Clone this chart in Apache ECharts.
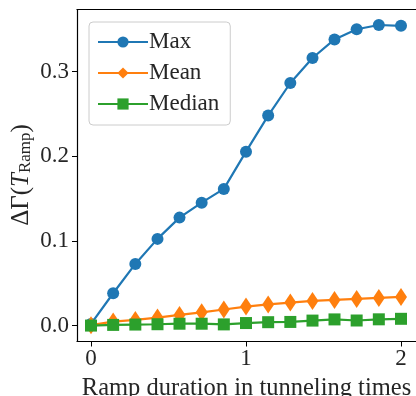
<!DOCTYPE html>
<html>
<head>
<meta charset="utf-8">
<script src="https://cdn.jsdelivr.net/npm/echarts@6/dist/echarts.min.js"></script>
<style>
html,body{margin:0;padding:0;background:#fff;}
#chart{width:416px;height:396px;}
</style>
</head>
<body>
<div id="chart"></div>
<script>
var rampDuration = [0, 0.143, 0.286, 0.429, 0.571, 0.714, 0.857, 1.0, 1.143, 1.286, 1.429, 1.571, 1.714, 1.857, 2.0];
var maxValues = [0.002, 0.0382, 0.0728, 0.1024, 0.1275, 0.1452, 0.1614, 0.2054, 0.248, 0.2865, 0.316, 0.338, 0.350, 0.355, 0.354];
var meanValues = [0.0005, 0.0047, 0.0067, 0.0094, 0.0126, 0.0157, 0.0190, 0.0224, 0.0250, 0.0272, 0.0291, 0.0303, 0.0315, 0.0327, 0.0338];
var medianValues = [0, 0.0008, 0.0012, 0.0016, 0.0022, 0.0022, 0.0014, 0.0030, 0.0040, 0.0043, 0.0059, 0.0073, 0.0060, 0.0074, 0.0080];
var seriesNames = ['Max', 'Mean', 'Median'];
var xTicks = [0, 1, 2];
var yTicks = [0, 0.1, 0.2, 0.3];
var xTitle = 'Ramp duration in tunneling times';

function pairs(ys) { return rampDuration.map(function (x, i) { return [x, ys[i]]; }); }

var FONT = '"Liberation Serif", "Times New Roman", serif';
var chart = echarts.init(document.getElementById('chart'), null, {renderer: 'canvas'});
var colors = ['#1f77b4', '#ff7f0e', '#2ca02c'];
var option = {
  animation: false,
  backgroundColor: '#fff',
  color: colors,
  grid: {left: 77, right: 0, top: 9.5, bottom: 54.5, containLabel: false, outerBoundsMode: 'none'},
  legend: {
    left: 89, top: 22, orient: 'vertical',
    itemWidth: 50, itemHeight: 14, itemGap: 7,
    padding: [8, 11, 9, 8],
    backgroundColor: 'rgba(255,255,255,0.8)',
    borderColor: '#cccccc', borderWidth: 1, borderRadius: 4,
    textStyle: {fontFamily: FONT, fontSize: 23, color: '#262626', lineHeight: 24, padding: [0, 0, 0, -4]},
    data: seriesNames
  },
  xAxis: [{
    type: 'value', min: -0.0903, max: 2.0968,
    splitLine: {show: false},
    axisLine: {show: true, onZero: false, lineStyle: {color: '#000', width: 1.2}},
    axisTick: {show: true, length: 5, customValues: xTicks, lineStyle: {color: '#000'}},
    axisLabel: {customValues: xTicks, fontFamily: FONT, fontSize: 23, color: '#262626', margin: 6},
    name: xTitle, nameLocation: 'middle', nameGap: 35,
    nameTextStyle: {fontFamily: FONT, fontSize: 24.5, color: '#262626'}
  }, {
    type: 'value', position: 'top', min: -0.0903, max: 2.0968,
    splitLine: {show: false},
    axisLine: {show: true, onZero: false, lineStyle: {color: '#000', width: 1.2}},
    axisTick: {show: false}, axisLabel: {show: false}
  }],
  yAxis: {
    type: 'value', min: -0.0188, max: 0.3733,
    splitLine: {show: false},
    axisLine: {show: true, onZero: false, lineStyle: {color: '#000', width: 1.2}},
    axisTick: {show: true, length: 5, customValues: yTicks, lineStyle: {color: '#000'}},
    axisLabel: {customValues: yTicks, fontFamily: FONT, fontSize: 23, color: '#262626', margin: 8,
      formatter: function (v) { return v.toFixed(1); }}
  },
  graphic: [{
    type: 'text', x: 21, y: 175, rotation: Math.PI / 2,
    style: {
      text: '{a|ΔΓ(}{i|T}{s|Ramp}{a|)}',
      align: 'center', verticalAlign: 'middle',
      rich: {
        a: {fontFamily: FONT, fontSize: 25, fill: '#262626'},
        i: {fontFamily: FONT, fontSize: 25, fontStyle: 'italic', fill: '#262626'},
        s: {fontFamily: FONT, fontSize: 17, fill: '#262626', padding: [10, 0, 0, 0], verticalAlign: 'bottom'}
      }
    }
  }],
  series: [
    {name: seriesNames[0], type: 'line', data: pairs(maxValues), symbol: 'circle', symbolSize: 12,
      lineStyle: {width: 2.2}, itemStyle: {color: colors[0]}},
    {name: seriesNames[1], type: 'line', data: pairs(meanValues), symbol: 'diamond', symbolSize: [12, 18],
      lineStyle: {width: 2.2}, itemStyle: {color: colors[1]}},
    {name: seriesNames[2], type: 'line', data: pairs(medianValues), symbol: 'rect', symbolSize: 12,
      lineStyle: {width: 2.2}, itemStyle: {color: colors[2]}}
  ]
};
chart.setOption(option);
</script>
</body>
</html>
